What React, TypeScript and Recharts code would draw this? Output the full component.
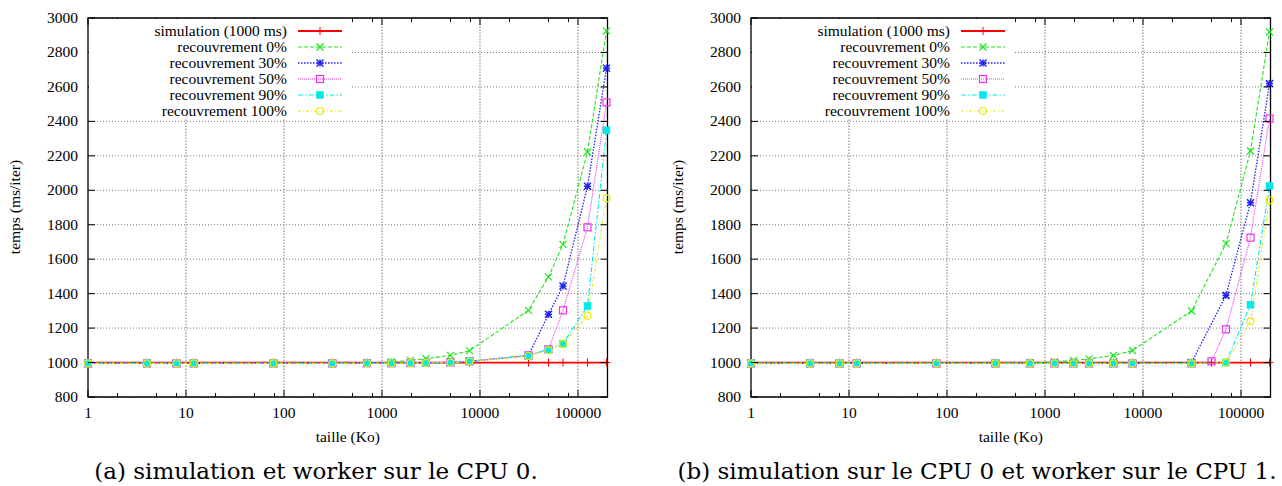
import React from 'react';
import { LineChart, Line, XAxis, YAxis, CartesianGrid, ReferenceLine, ReferenceArea } from 'recharts';

// message sizes (Ko), log scale
const sizes = [1, 4, 8, 12, 78, 312, 703, 1250, 1953, 2812, 5000, 7812, 31250, 50000, 70312, 125000, 195312];
const decadeTicks = [1, 10, 100, 1000, 10000, 100000];
const minorTicks = [2, 5, 8, 20, 50, 80, 200, 500, 800, 2000, 5000, 8000, 20000, 50000, 80000];
const yTicks = [800, 1000, 1200, 1400, 1600, 1800, 2000, 2200, 2400, 2600, 2800, 3000];

// (a) simulation et worker sur le CPU 0
const cpu0Sim = [1000, 1000, 1000, 1000, 1000, 1000, 1000, 1000, 1000, 1000, 1000, 1000, 1000, 1000, 1000, 1000, 1000];
const cpu0R0 = [995, 995, 995, 995, 995, 996, 997, 1003, 1013, 1022, 1042, 1069, 1303, 1497, 1686, 2222, 2925];
const cpu0R30 = [995, 995, 995, 995, 995, 995, 996, 996, 997, 998, 1001, 1007, 1040, 1280, 1444, 2023, 2708];
const cpu0R50 = [995, 995, 995, 995, 995, 995, 996, 996, 997, 998, 1001, 1007, 1042, 1077, 1303, 1785, 2510];
const cpu0R90 = [995, 995, 995, 995, 995, 995, 996, 996, 997, 998, 1001, 1007, 1040, 1075, 1110, 1328, 2348];
const cpu0R100 = [995, 995, 995, 995, 995, 995, 996, 996, 997, 998, 1000, 1006, 1038, 1072, 1108, 1272, 1953];

// (b) simulation sur le CPU 0 et worker sur le CPU 1
const cpu1Sim = [1000, 1000, 1000, 1000, 1000, 1000, 1000, 1000, 1000, 1000, 1000, 1000, 1000, 1000, 1000, 1000, 1000];
const cpu1R0 = [995, 995, 995, 995, 995, 996, 998, 1005, 1012, 1021, 1041, 1070, 1299, null, 1690, 2228, 2919];
const cpu1R30 = [995, 995, 995, 995, 995, 995, 995, 995, 995, 995, 995, 995, 1000, null, 1390, 1928, 2619];
const cpu1R50 = [995, 995, 995, 995, 995, 995, 995, 995, 995, 995, 995, 995, 995, 1007, 1193, 1725, 2416];
const cpu1R90 = [995, 995, 995, 995, 995, 995, 995, 995, 995, 995, 995, 995, 995, null, 1000, 1336, 2025];
const cpu1R100 = [995, 995, 995, 995, 995, 995, 995, 995, 995, 995, 995, 995, 995, null, 1000, 1239, 1942];

const seriesStyle = [
  { key: 'sim', name: 'simulation (1000 ms)', color: '#ff0000', dash: undefined, width: 1.8, marker: 'plus' },
  { key: 'r0', name: 'recouvrement 0%', color: '#1ee61e', dash: '4 2', width: 1.1, marker: 'cross' },
  { key: 'r30', name: 'recouvrement 30%', color: '#2020f0', dash: '1.5 1.5', width: 1.3, marker: 'star' },
  { key: 'r50', name: 'recouvrement 50%', color: '#f030f0', dash: '1 1', width: 1.1, marker: 'square' },
  { key: 'r90', name: 'recouvrement 90%', color: '#00eaea', dash: '5 2 1.5 2', width: 1.1, marker: 'fsquare' },
  { key: 'r100', name: 'recouvrement 100%', color: '#eaea00', dash: '3 2 1 2', width: 1.1, marker: 'circle' },
];

const PLOT = { left: 88, top: 18, right: 607.5, bottom: 397 };
const CHART_W = 615;
const CHART_H = 486;
const FONT = '"Liberation Serif", "Times New Roman", serif';

function buildRows(cols: (number | null)[][]) {
  return sizes.map((size, i) => ({
    size,
    sim: cols[0][i],
    r0: cols[1][i],
    r30: cols[2][i],
    r50: cols[3][i],
    r90: cols[4][i],
    r100: cols[5][i],
  }));
}

const cpu0Rows = buildRows([cpu0Sim, cpu0R0, cpu0R30, cpu0R50, cpu0R90, cpu0R100]);
const cpu1Rows = buildRows([cpu1Sim, cpu1R0, cpu1R30, cpu1R50, cpu1R90, cpu1R100]);

function Marker({ shape, cx, cy, color }: { shape: string; cx: number; cy: number; color: string }) {
  const s = 3.5;
  switch (shape) {
    case 'plus':
      return (
        <g stroke={color} strokeWidth={1}>
          <line x1={cx - s - 0.5} x2={cx + s + 0.5} y1={cy} y2={cy} />
          <line x1={cx} x2={cx} y1={cy - s - 0.5} y2={cy + s + 0.5} />
        </g>
      );
    case 'cross':
      return (
        <g stroke={color} strokeWidth={1.2}>
          <line x1={cx - s} x2={cx + s} y1={cy - s} y2={cy + s} />
          <line x1={cx - s} x2={cx + s} y1={cy + s} y2={cy - s} />
        </g>
      );
    case 'star':
      return (
        <g stroke={color} strokeWidth={1.5}>
          <line x1={cx - s} x2={cx + s} y1={cy - s} y2={cy + s} />
          <line x1={cx - s} x2={cx + s} y1={cy + s} y2={cy - s} />
          <line x1={cx - s} x2={cx + s} y1={cy} y2={cy} />
          <line x1={cx} x2={cx} y1={cy - s} y2={cy + s} />
        </g>
      );
    case 'square':
      return <rect x={cx - s} y={cy - s} width={2 * s} height={2 * s} fill="none" stroke={color} strokeWidth={1.2} />;
    case 'fsquare':
      return <rect x={cx - s} y={cy - s} width={2 * s} height={2 * s} fill={color} stroke={color} strokeWidth={0.5} />;
    default:
      return <circle cx={cx} cy={cy} r={s} fill="none" stroke={color} strokeWidth={1.2} />;
  }
}

const renderXTick = (props: any) => {
  const { x, payload } = props;
  const major = decadeTicks.includes(payload.value);
  const len = major ? 7 : 4;
  return (
    <g>
      <line x1={x} x2={x} y1={PLOT.bottom} y2={PLOT.bottom - len} stroke="#000" strokeWidth={1} />
      <line x1={x} x2={x} y1={PLOT.top} y2={PLOT.top + len} stroke="#000" strokeWidth={1} />
      {major && (
        <text x={x} y={PLOT.bottom + 21} textAnchor="middle" fontFamily={FONT} fontSize={15.5} fill="#000">
          {payload.value}
        </text>
      )}
    </g>
  );
};

const renderYTick = (props: any) => {
  const { y, payload } = props;
  return (
    <g>
      <line x1={PLOT.left} x2={PLOT.left + 7} y1={y} y2={y} stroke="#000" strokeWidth={1} />
      <line x1={PLOT.right - 7} x2={PLOT.right} y1={y} y2={y} stroke="#000" strokeWidth={1} />
      <text x={PLOT.left - 10} y={y + 5} textAnchor="end" fontFamily={FONT} fontSize={15.5} fill="#000">
        {payload.value}
      </text>
    </g>
  );
};

function Legend() {
  const textX = 198;
  return (
    <div style={{ position: 'absolute', left: PLOT.left + 1, top: PLOT.top + 1, width: 262, height: 100, background: '#fff' }}>
      <svg width={262} height={100}>
        {seriesStyle.map((s, i) => {
          const cy = 12 + i * 16;
          return (
            <g key={s.key}>
              <text x={textX} y={cy + 5} textAnchor="end" fontFamily={FONT} fontSize={15.5} fill="#000">
                {s.name}
              </text>
              <line x1={209} x2={253} y1={cy} y2={cy} stroke={s.color} strokeWidth={s.width} strokeDasharray={s.dash} />
              <Marker shape={s.marker} cx={231} cy={cy} color={s.color} />
            </g>
          );
        })}
      </svg>
    </div>
  );
}

function Panel({ rows, left, caption, captionCenter }: { rows: any[]; left: number; caption: string; captionCenter: number }) {
  const xTicks = [...decadeTicks, ...minorTicks].sort((a, b) => a - b);
  return (
    <>
      <div style={{ position: 'absolute', left, top: 0, width: CHART_W, height: CHART_H }}>
        <LineChart width={CHART_W} height={CHART_H} data={rows} margin={{ top: PLOT.top, right: CHART_W - PLOT.right, bottom: 59, left: 0 }}>
          <CartesianGrid vertical={false} stroke="#7a7a7a" strokeDasharray="1 2" />
          {decadeTicks.slice(1).map((d) => (
            <ReferenceLine key={d} x={d} stroke="#7a7a7a" strokeDasharray="1.5 1.5" />
          ))}
          <XAxis
            dataKey="size"
            type="number"
            scale="log"
            domain={[1, 200000]}
            ticks={xTicks}
            interval={0}
            tick={renderXTick}
            tickLine={false}
            axisLine={false}
            height={30}
          />
          <YAxis
            type="number"
            domain={[800, 3000]}
            ticks={yTicks}
            interval={0}
            tick={renderYTick}
            tickLine={false}
            axisLine={false}
            width={PLOT.left}
          />
          <ReferenceArea x1={1} x2={200000} y1={800} y2={3000} fill="none" stroke="#000" strokeWidth={1.3} />
          {seriesStyle.map((s) => (
            <Line
              key={s.key}
              type="linear"
              dataKey={s.key}
              stroke={s.color}
              strokeWidth={s.width}
              strokeDasharray={s.dash}
              connectNulls
              isAnimationActive={false}
              dot={(p: any) =>
                p.cx == null || p.cy == null || p.value == null ? (
                  <g key={`${s.key}-${p.index}`} />
                ) : (
                  <Marker key={`${s.key}-${p.index}`} shape={s.marker} cx={p.cx} cy={p.cy} color={s.color} />
                )
              }
              activeDot={false}
            />
          ))}
        </LineChart>
        <Legend />
        <svg width={CHART_W} height={CHART_H} style={{ position: 'absolute', left: 0, top: 0, pointerEvents: 'none' }}>
          <text x={14} y={207} transform="rotate(-90 14 207)" textAnchor="middle" dominantBaseline="central" fontFamily={FONT} fontSize={15.5} fill="#000">
            temps (ms/iter)
          </text>
          <text x={(PLOT.left + PLOT.right) / 2} y={442} textAnchor="middle" fontFamily={FONT} fontSize={15.5} fill="#000">
            taille (Ko)
          </text>
        </svg>
      </div>
      <div
        style={{
          position: 'absolute',
          left: captionCenter - 320,
          width: 640,
          top: 457,
          textAlign: 'center',
          fontFamily: '"DejaVu Serif", serif',
          fontSize: 23,
          lineHeight: '28px',
          color: '#000',
          whiteSpace: 'nowrap',
        }}
      >
        {caption}
      </div>
    </>
  );
}

export default function App() {
  return (
    <div style={{ position: 'absolute', left: 0, top: 0, width: 1282, height: 486, background: '#fff', overflow: 'hidden' }}>
      <Panel rows={cpu0Rows} left={0} caption="(a) simulation et worker sur le CPU 0." captionCenter={316} />
      <Panel rows={cpu1Rows} left={663} caption="(b) simulation sur le CPU 0 et worker sur le CPU 1." captionCenter={977} />
    </div>
  );
}
